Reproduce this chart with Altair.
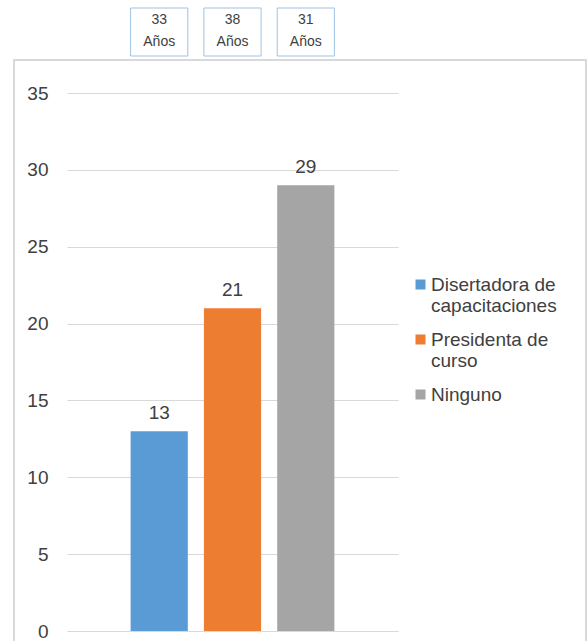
import altair as alt
import pandas as pd

# Categories, counts and mean ages for each role
roles = ["Disertadora de capacitaciones", "Presidenta de curso", "Ninguno"]
counts = [13, 21, 29]
ages = [33, 38, 31]
colors = ["#5B9BD5", "#ED7D31", "#A5A5A5"]
y_ticks = [0, 5, 10, 15, 20, 25, 30, 35]

df = pd.DataFrame({
    "rol": roles,
    "n": counts,
    "edad": [f"{a}\nAños" for a in ages],
})

FONT = "Liberation Sans"
TXT = "#404040"
FS = 19

x_enc = alt.X(
    "rol:N",
    sort=roles,
    scale=alt.Scale(paddingInner=0.22, paddingOuter=0.868),
    axis=None,
)

base = alt.Chart(df)

# Outer frame of the chart area
frame = base.mark_rect(fill=None, stroke="#D9D9D9", strokeWidth=1.5).encode(
    x=alt.value(-53), x2=alt.value(519), y=alt.value(-33), y2=alt.value(620)
)

# Square legend swatch, lowered so it sits beside the first line of each label
SWATCH = "M-1,0.8H1V2.8H-1Z"

bars = base.mark_bar().encode(
    x=x_enc,
    y=alt.Y(
        "n:Q",
        scale=alt.Scale(domain=[0, 35], nice=False),
        axis=alt.Axis(
            values=y_ticks, title=None, domain=False, ticks=False,
            labelPadding=19, labelFontSize=FS, labelColor=TXT, labelFont=FONT,
            gridColor="#D9D9D9", gridWidth=1.2,
        ),
    ),
    color=alt.Color(
        "rol:N",
        sort=roles,
        scale=alt.Scale(domain=roles, range=colors),
        legend=alt.Legend(
            title=None, orient="none", legendX=344, legendY=173,
            symbolType=SWATCH, symbolSize=100, symbolStrokeWidth=0,
            labelFont=FONT, labelFontSize=FS, labelColor=TXT,
            labelExpr="datum.label == 'Disertadora de capacitaciones' ? ['Disertadora de', 'capacitaciones'] : datum.label == 'Presidenta de curso' ? ['Presidenta de', 'curso'] : datum.label",
            labelBaseline="top", labelOffset=1, labelLimit=220,
            rowPadding=5,
        ),
    ),
)

values = base.mark_text(dy=-8, baseline="bottom", fontSize=FS, font=FONT, color=TXT).encode(
    x=x_enc, y="n:Q", text="n:Q"
)

boxes = base.mark_rect(fill="white", stroke="#9DC3E6", strokeWidth=1).encode(
    x=x_enc, y=alt.value(-85), y2=alt.value(-37)
)

box_text = base.mark_text(
    lineBreak="\n", fontSize=14, font=FONT, color=TXT, baseline="middle", lineHeight=22
).encode(x=x_enc, y=alt.value(-73), text="edad:N")

chart = (
    alt.layer(frame, bars, values, boxes, box_text)
    .properties(
        width=331,
        height=538,
        autosize=alt.AutoSizeParams(type="none"),
        padding={"left": 67, "top": 93, "right": 189, "bottom": 10},
        background="white",
    )
    .configure_view(stroke=None)
)

chart.save("out.html", embed_options={"renderer": "svg", "actions": False})
